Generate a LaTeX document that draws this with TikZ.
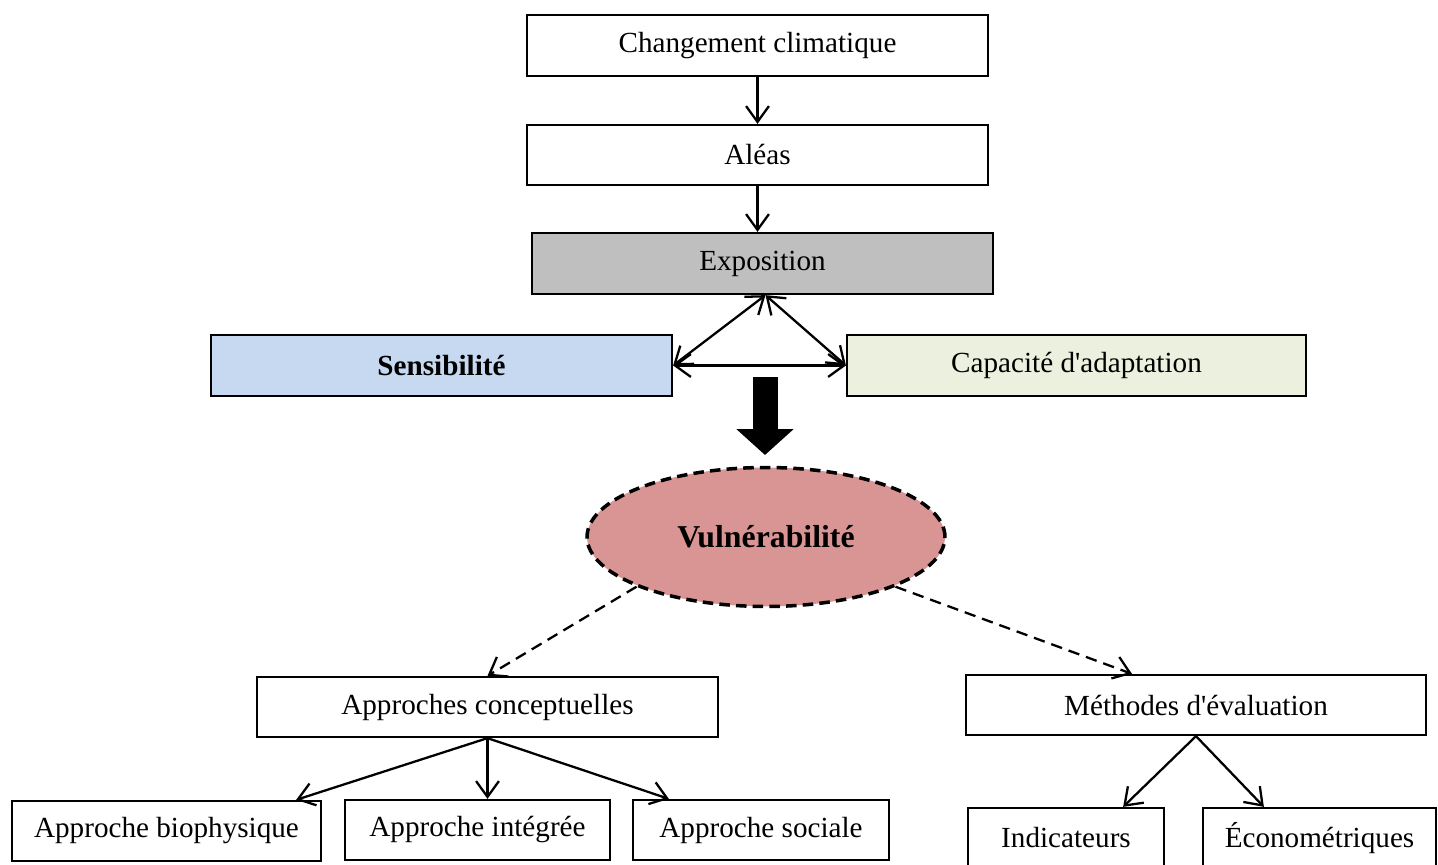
\documentclass[tikz,border=0pt]{standalone}
\usepackage{fontspec}
\setmainfont{Liberation Serif}
\usetikzlibrary{arrows.meta,shapes.geometric,calc}
\definecolor{expgray}{HTML}{BFBFBF}
\definecolor{sensblue}{HTML}{C6D9F1}
\definecolor{capgreen}{HTML}{EBF1DE}
\definecolor{vulnred}{HTML}{D99594}
\begin{document}
\begin{tikzpicture}[x=0.02cm,y=-0.02cm,
  box/.style={draw,line width=1.3pt,rectangle,minimum height=1.2cm,inner sep=0pt,font=\fontsize{16.6}{20}\selectfont},
  arr/.style={line width=1.3pt,-{Straight Barb[length=9pt,width=13pt,line width=1.3pt]}},
  darr/.style={line width=1.3pt,{Straight Barb[length=9pt,width=13pt,line width=1.3pt]}-{Straight Barb[length=9pt,width=13pt,line width=1.3pt]}},
  dasharr/.style={arr,dash pattern=on 6.5pt off 4pt}]
\useasboundingbox (0,0) rectangle (1438,865);
% top chain
\node[box,minimum width=9.22cm,minimum height=1.22cm] (cc) at (757.5,45.5) {Changement climatique};
\node[box,minimum width=9.22cm] (al) at (757.5,155) {Aléas};
\node[box,minimum width=9.22cm,minimum height=1.22cm,fill=expgray] (ex) at (762.5,263.5) {Exposition};
\node[box,minimum width=9.22cm,minimum height=1.22cm,fill=sensblue,font=\fontsize{16.6}{20}\selectfont\bfseries] (se) at (441.5,365.5) {Sensibilité};
\node[box,minimum width=9.18cm,minimum height=1.22cm,fill=capgreen] (ca) at (1076.5,365.5) {Capacité d\textquotesingle adaptation};
% vulnerability
\node[ellipse,draw,line width=2pt,dash pattern=on 6pt off 3.5pt,fill=vulnred,minimum width=7.16cm,minimum height=2.78cm,inner sep=0pt,font=\fontsize{18.1}{22}\selectfont\bfseries] (v) at (766,537) {Vulnérabilité};
% second level
\node[box,minimum width=9.22cm] (ac) at (487.5,707) {Approches conceptuelles};
\node[box,minimum width=9.2cm] (me) at (1196,705) {Méthodes d\textquotesingle évaluation};
% leaves
\node[box,minimum width=6.18cm] (bio) at (166.5,831) {Approche biophysique};
\node[box,minimum width=5.3cm] (int) at (477.5,830) {Approche intégrée};
\node[box,minimum width=5.12cm] (soc) at (761,830) {Approche sociale};
\node[box,minimum width=3.92cm] (ind) at (1066,838) {Indicateurs};
\node[box,minimum width=4.66cm] (eco) at (1319.5,838) {Économétriques};
% connectors
\draw[arr] (cc.south) -- (al.north);
\draw[arr] (al.south) -- (al.south |- ex.north);
\coordinate (apex) at ($(ex.south)+(3,0)$);
\draw[darr] (apex) -- (se.east);
\draw[darr] (apex) -- (ca.west);
\draw[darr] (se.east) -- (ca.west);
% big arrow
\coordinate (ba) at (765,377);
\coordinate (bb) at (765,455);
\draw[line width=0.5cm,-{Triangle[length=0.52cm,width=1.12cm]}] (ba) -- (bb);
% dashed
\draw[dasharr] (v.201) -- (ac.north);
\draw[dasharr] (v.339) -- ($(me.north)+(-64,0)$);
% children
\draw[arr] (ac.south) -- ($(bio.north east)+(-26,0)$);
\draw[arr] (ac.south) -- (ac.south |- int.north);
\draw[arr] (ac.south) -- ($(soc.north west)+(37,0)$);
\draw[arr] (me.south) -- ($(ind.north east)+(-42,0)$);
\draw[arr] (me.south) -- ($(eco.north west)+(62,0)$);
\end{tikzpicture}
\end{document}
